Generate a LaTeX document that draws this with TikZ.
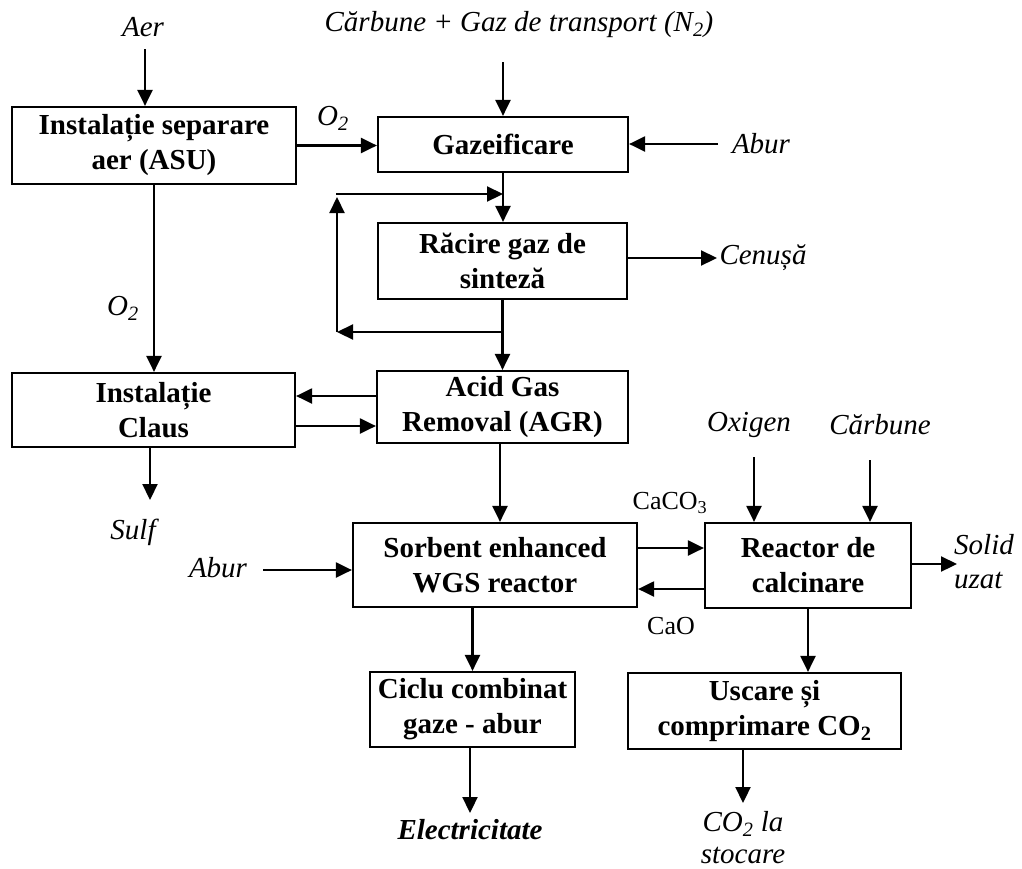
\documentclass[tikz,border=0pt]{standalone}
\usepackage{fontspec}
\setmainfont{Liberation Serif}
\usetikzlibrary{arrows.meta}
\begin{document}
\begin{tikzpicture}[x=1pt,y=-1pt,
  box/.style={draw, line width=2.2pt, font=\fontsize{29}{35}\selectfont\bfseries, align=center, inner sep=0pt},
  lbl/.style={font=\fontsize{29}{34}\selectfont\itshape, inner sep=0pt, align=center},
  chem/.style={font=\fontsize{26}{30}\selectfont, inner sep=0pt},
  arr/.style={line width=2.2pt, -{Triangle[length=16pt,width=15pt]}}]
\useasboundingbox (0,0) rectangle (1022,868);
% boxes
\node[box, minimum width=284pt, minimum height=77pt] (asu) at (154,145.5) {Instalație separare\\aer (ASU)};
\node[box, minimum width=250pt, minimum height=55pt] (gaz) at (503,144.5) {Gazeificare};
\node[box, minimum width=249pt, minimum height=76pt] (rac) at (502.5,261) {Răcire gaz de\\sinteză};
\node[box, minimum width=283pt, minimum height=74pt] (claus) at (153.5,410) {Instalație\\Claus};
\node[box, minimum width=251pt, minimum height=72pt] (agr) at (502.5,407) {Acid Gas\\Removal (AGR)};
\node[box, minimum width=284pt, minimum height=84pt] (wgs) at (495,565) {Sorbent enhanced\\WGS reactor};
\node[box, minimum width=206pt, minimum height=85pt] (calc) at (808,565.5) {Reactor de\\calcinare};
\node[box, minimum width=205pt, minimum height=75pt] (ciclu) at (472.5,709.5) {Ciclu combinat\\gaze - abur};
\node[box, minimum width=273pt, minimum height=76pt] (usc) at (764.5,711) {Uscare și\\comprimare CO\textsubscript{2}};
% labels
\node[lbl] (tAer) at (143,27) {Aer};
\node[lbl] (tCarb) at (519,25) {Cărbune + Gaz de transport (N\textsubscript{2})};
\node[lbl] (tO2a) at (333,118) {O\textsubscript{2}};
\node[lbl] (tAbur1) at (761,144) {Abur};
\node[lbl] (tCen) at (763,258) {Cenușă};
\node[lbl] (tO2b) at (123,308) {O\textsubscript{2}};
\node[lbl] (tSulf) at (133,532) {Sulf};
\node[lbl] (tAbur2) at (218,568) {Abur};
\node[chem] (tCaCO) at (670,503) {CaCO\textsubscript{3}};
\node[chem] (tCaO) at (671,626) {CaO};
\node[lbl] (tOxi) at (749,425) {Oxigen};
\node[lbl] (tCarb2) at (880,425) {Cărbune};
\node[lbl, align=left, anchor=west] (tSolid) at (954,562) {Solid\\uzat};
\node[lbl, font=\fontsize{29}{34}\selectfont\bfseries\itshape] (tElec) at (470,830) {Electricitate};
\node[lbl, font=\fontsize{29}{32}\selectfont\itshape, anchor=south] (tCO) at (743,864) {CO\textsubscript{2} la\\stocare};
% free ends
\coordinate (cAer) at (145,49);
\coordinate (cCarb) at (503,62);
\coordinate (cAbur1) at (718,144);
\coordinate (L1) at (337,332);
\coordinate (L2) at (337,197);
\coordinate (L3) at (336,194);
\coordinate (cCen) at (717,258);
\coordinate (cSulf) at (150,500);
\coordinate (cAbur2) at (263,570);
\coordinate (cOxi) at (754,457);
\coordinate (cCarb2) at (870,460);
\coordinate (cSol) at (957,564);
\coordinate (cEl) at (470,813);
\coordinate (cCO) at (743,803);
\coordinate (pA) at ([yshift=11pt]agr.west);
\coordinate (pB) at ([yshift=-16pt]claus.east);
\coordinate (pC) at ([xshift=-2.5pt]agr.south);
\coordinate (pD) at ([yshift=17pt]wgs.east);
\coordinate (pE) at ([yshift=-23.5pt]calc.west);
% connectors
\draw[arr] (cAer) -- (cAer |- asu.north);
\draw[arr] (asu.east) -- (asu.east -| gaz.west);
\draw[arr] (cCarb) -- (cCarb |- gaz.north);
\draw[arr] (cAbur1) -- (cAbur1 -| gaz.east);
\draw[arr] (gaz.south) -- (gaz.south |- rac.north);
\draw[arr] (rac.south |- L1) -- (L1);
\draw[arr] (L1) -- (L2);
\draw[arr] (L3) -- (L3 -| gaz.south);
\draw[arr] (rac.south) -- (rac.south |- agr.north);
\draw[arr] (rac.east |- cCen) -- (cCen);
\draw[arr] (asu.south) -- (asu.south |- claus.north);
\draw[arr] (pA) -- (pA -| claus.east);
\draw[arr] (pB) -- (pB -| agr.west);
\draw[arr] (claus.south -| cSulf) -- (cSulf);
\draw[arr] (pC) -- (pC |- wgs.north);
\draw[arr] (cAbur2) -- (cAbur2 -| wgs.west);
\draw[arr] (pD) -- (pD -| calc.west);
\draw[arr] (pE) -- (pE -| wgs.east);
\draw[arr] (cOxi) -- (cOxi |- calc.north);
\draw[arr] (cCarb2) -- (cCarb2 |- calc.north);
\draw[arr] (calc.east |- cSol) -- (cSol);
\draw[arr] (calc.south) -- (calc.south |- usc.north);
\draw[arr] (ciclu.north |- wgs.south) -- (ciclu.north);
\draw[arr] (ciclu.south -| cEl) -- (cEl);
\draw[arr] (usc.south -| cCO) -- (cCO);
\end{tikzpicture}
\end{document}
